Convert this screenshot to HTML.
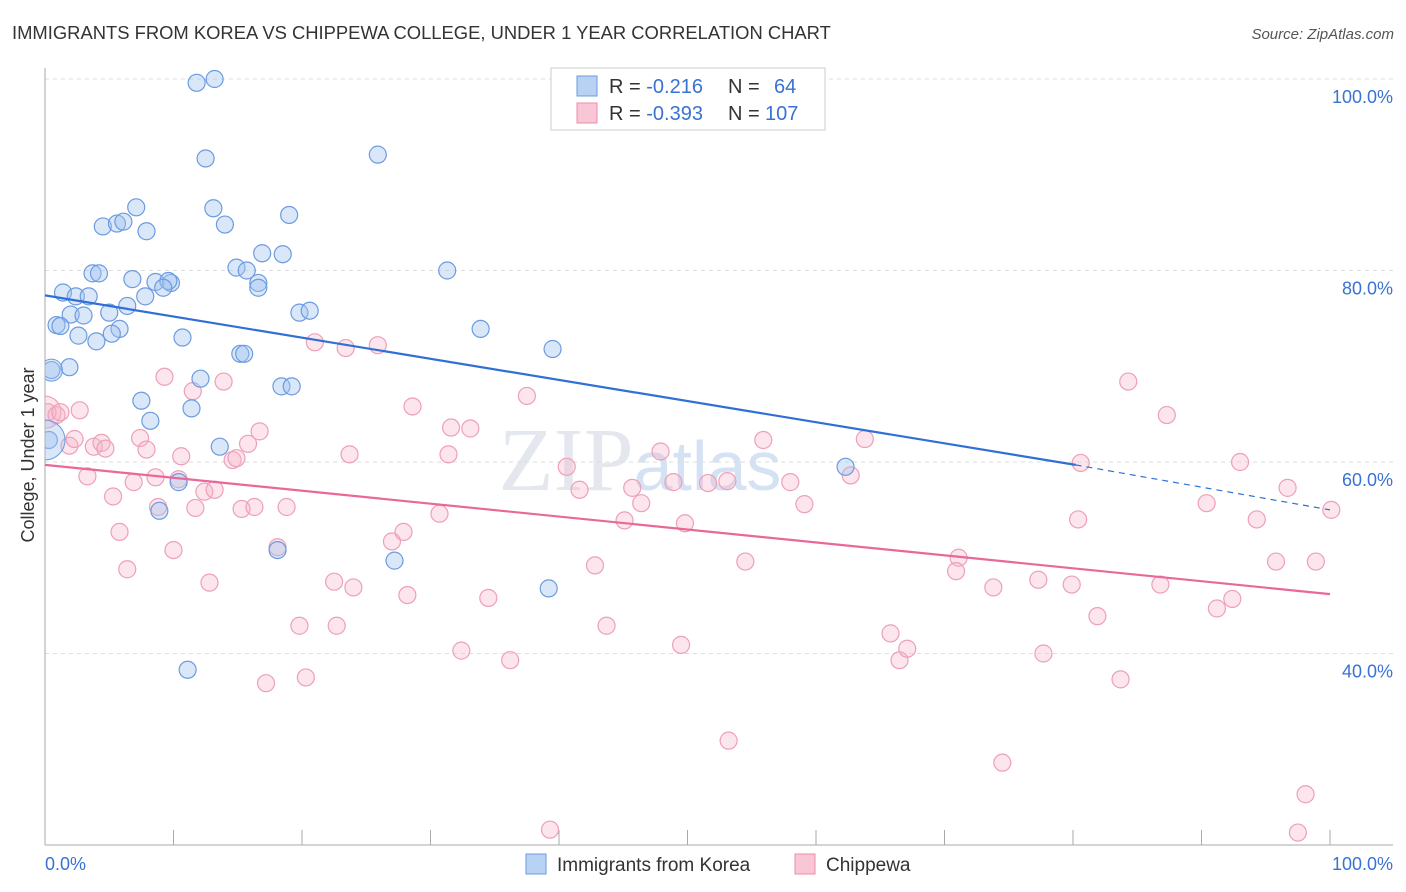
<!DOCTYPE html>
<html><head><meta charset="utf-8"><style>
body{margin:0;background:#fff;font-family:"Liberation Sans",sans-serif;}
#wrap{position:relative;width:1406px;height:892px;overflow:hidden}
</style></head><body><div id="wrap">
<svg id="svg" width="1406" height="892" xmlns="http://www.w3.org/2000/svg">
<defs><clipPath id="plotclip"><rect x="45" y="60" width="1360" height="790"/></clipPath></defs>
<text x="12" y="39" font-size="18.4" fill="#333">IMMIGRANTS FROM KOREA VS CHIPPEWA COLLEGE, UNDER 1 YEAR CORRELATION CHART</text>
<text x="1394" y="39" font-size="15" fill="#555" font-style="italic" text-anchor="end">Source: ZipAtlas.com</text>
<text x="640" y="490" font-size="90" fill="#e4e8ee" font-family="Liberation Serif" text-anchor="middle">ZIP<tspan fill="#d4e2f4" font-family="Liberation Sans" font-size="70">atlas</tspan></text>
<text transform="translate(34,455) rotate(-90)" font-size="18" fill="#333" text-anchor="middle">College, Under 1 year</text>
<g id="grid"></g><g id="marks" clip-path="url(#plotclip)"></g>
<g>
<rect x="551" y="68" width="274" height="62" fill="#fff" stroke="#ccc"/>
<rect x="577" y="76" width="20" height="20" fill="#b8d2f3" stroke="#6c9be0"/>
<rect x="577" y="103" width="20" height="20" fill="#f9c6d5" stroke="#ec8eab"/>
<text x="609" y="93" font-size="20" fill="#333">R = <tspan fill="#3a72d4">-0.216</tspan><tspan x="728">N = </tspan><tspan fill="#3a72d4" x="774">64</tspan></text>
<text x="609" y="120" font-size="20" fill="#333">R = <tspan fill="#3a72d4">-0.393</tspan><tspan x="728">N = </tspan><tspan fill="#3a72d4" x="765">107</tspan></text>
</g>
<g>
<rect x="526" y="854" width="20" height="20" fill="#b8d2f3" stroke="#6c9be0"/>
<text x="557" y="871" font-size="19" fill="#333">Immigrants from Korea</text>
<rect x="795" y="854" width="20" height="20" fill="#f9c6d5" stroke="#ec8eab"/>
<text x="826" y="871" font-size="19" fill="#333">Chippewa</text>
</g>
<text x="45" y="870" font-size="18" fill="#3a72d4">0.0%</text>
<text x="1393" y="870" font-size="18" fill="#3a72d4" text-anchor="end">100.0%</text>
</svg></div>
<script>
const yTicks=[100,80,60,40];
const xTicks=[0,10,20,30,40,50,60,70,80,90,100];
const koreaX=[11.8,13.2,12.5,25.9,13.1,19.0,14.0,7.1,4.5,5.6,6.1,7.9,16.9,18.5,14.9,15.7,31.3,3.7,4.2,6.8,8.6,9.8,9.6,9.2,16.6,16.6,1.4,2.4,3.4,7.8,6.4,5.0,19.8,20.6,2.0,3.0,0.9,1.2,5.8,5.2,33.9,2.6,4.0,10.7,15.2,15.5,39.5,0.5,1.9,12.1,18.4,19.2,7.5,11.4,8.2,0.3,13.6,10.4,8.9,62.3,18.1,27.2,39.2,11.1];
const koreaY=[99.6,100,91.7,92.1,86.5,85.8,84.8,86.6,84.6,84.9,85.1,84.1,81.8,81.7,80.3,80.0,80.0,79.7,79.7,79.1,78.8,78.7,78.9,78.2,78.7,78.2,77.7,77.3,77.3,77.3,76.3,75.6,75.6,75.8,75.4,75.3,74.3,74.2,73.9,73.4,73.9,73.2,72.6,73.0,71.3,71.3,71.8,69.6,69.9,68.7,67.9,67.9,66.4,65.6,64.3,62.3,61.6,57.9,54.9,59.5,50.8,49.7,46.8,38.3];
const chipX=[0.2,0.9,1.2,2.7,1.9,2.3,3.8,4.4,4.7,3.3,5.3,5.8,6.4,6.9,7.4,7.9,8.6,8.8,9.3,10.0,10.6,10.4,11.5,11.7,12.4,12.8,13.2,13.9,14.6,14.9,15.3,15.8,16.3,16.7,17.2,18.1,18.8,19.8,20.3,21.0,22.5,22.7,23.4,23.7,24.0,25.9,27.0,27.9,28.2,28.6,31.4,31.6,30.7,32.4,33.1,34.5,36.2,37.5,39.3,40.6,41.6,42.8,43.7,45.1,45.7,46.4,47.9,48.9,49.8,49.5,51.6,53.1,53.2,54.5,55.9,58.0,59.1,62.7,63.8,65.8,66.5,67.1,71.1,70.9,73.8,74.5,77.3,77.7,80.4,80.6,79.9,81.9,83.7,84.3,86.8,87.3,90.4,91.2,92.4,93.0,94.3,95.8,96.7,98.1,97.5,98.9,100.1];
const chipY=[65.2,64.9,65.2,65.4,61.7,62.4,61.6,62.0,61.4,58.5,56.4,52.7,48.8,57.9,62.5,61.3,58.4,55.3,68.9,50.8,60.6,58.2,67.4,55.2,56.9,47.4,57.1,68.4,60.2,60.4,55.1,61.9,55.3,63.2,36.9,51.1,55.3,42.9,37.5,72.5,47.5,42.9,71.9,60.8,46.9,72.2,51.7,52.7,46.1,65.8,60.8,63.6,54.6,40.3,63.5,45.8,39.3,66.9,21.6,59.5,57.1,49.2,42.9,53.9,57.3,55.7,61.1,57.9,53.6,40.9,57.8,58.0,30.9,49.6,62.3,57.9,55.6,58.6,62.4,42.1,39.3,40.5,50.0,48.6,46.9,28.6,47.7,40.0,54.0,59.9,47.2,43.9,37.3,68.4,47.2,64.9,55.7,44.7,45.7,60.0,54.0,49.6,57.3,25.3,21.3,49.6,55.0];
const trendK=[77.4,59.7,55.0];const trendKx=[0,80.2,100];
const trendC=[59.7,46.2];const trendCx=[0,100];
const NS='http://www.w3.org/2000/svg';
const X=v=>45+v*12.85, Y=v=>79+(100-v)*9.575;
const grid=document.getElementById('grid'),marks=document.getElementById('marks');
function mk(tag,at,par){const e=document.createElementNS(NS,tag);for(const k in at)e.setAttribute(k,at[k]);par.appendChild(e);return e;}
yTicks.forEach(t=>{
 const l=mk('line',{x1:45,x2:1393,y1:Y(t),y2:Y(t),stroke:'#ddd','stroke-dasharray':'4,4'},grid);
 
 
 const tx=mk('text',{x:1393,y:Y(t)+24,'font-size':18,fill:'#3a72d4','text-anchor':'end'},grid);
 tx.textContent=t.toFixed(1)+'%';
 
 
});
mk('line',{x1:45,x2:45,y1:68,y2:845,stroke:'#aaa'},grid);
mk('line',{x1:45,x2:1393,y1:845,y2:845,stroke:'#aaa'},grid);
xTicks.forEach(t=>{const l=mk('line',{x1:X(t),x2:X(t),y1:830,y2:845,stroke:'#aaa'},grid);
 
 });
const bigP=mk('circle',{cx:X(0),cy:Y(65.2),r:16,fill:'rgba(246,180,200,0.35)',stroke:'#eda0b8','stroke-width':1.2},marks);


chipX.forEach((x,i)=>{const c=mk('circle',{cx:X(x),cy:Y(chipY[i]),r:8.5,fill:'rgba(246,180,200,0.35)',stroke:'#eda0b8','stroke-width':1.2},marks);
 
 });
koreaX.forEach((x,i)=>{const c=mk('circle',{cx:X(x),cy:Y(koreaY[i]),r:8.5,fill:'rgba(160,195,240,0.4)',stroke:'#6c9be0','stroke-width':1.2},marks);
 
 });
const big1=mk('circle',{cx:X(0),cy:Y(62.3),r:20,fill:'rgba(160,195,240,0.4)',stroke:'#6c9be0'},marks);


const big2=mk('circle',{cx:X(0.5),cy:Y(69.6),r:11,fill:'rgba(160,195,240,0.4)',stroke:'#6c9be0'},marks);


let l1=mk('line',{x1:X(trendKx[0]),y1:Y(trendK[0]),x2:X(trendKx[1]),y2:Y(trendK[1]),stroke:'#2f6fd6','stroke-width':2.2},marks);


let l2=mk('line',{x1:X(trendKx[1]),y1:Y(trendK[1]),x2:X(trendKx[2]),y2:Y(trendK[2]),stroke:'#2f6fd6','stroke-width':1.2,'stroke-dasharray':'6,5'},marks);


let l3=mk('line',{x1:X(trendCx[0]),y1:Y(trendC[0]),x2:X(trendCx[1]),y2:Y(trendC[1]),stroke:'#e8689a','stroke-width':2.2},marks);


</script></body></html>
